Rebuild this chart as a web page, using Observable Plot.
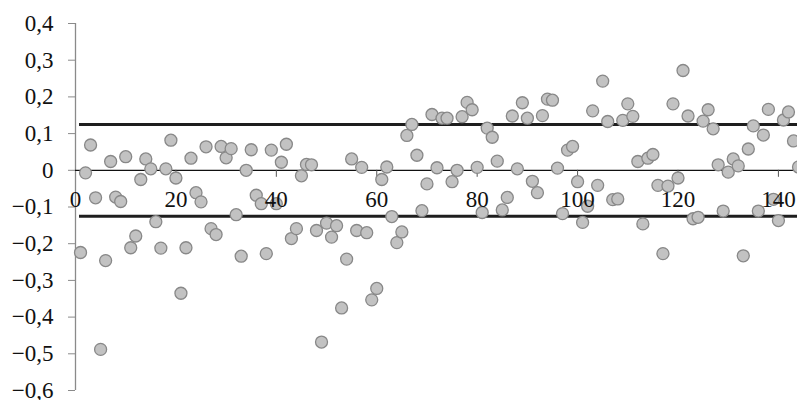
<!DOCTYPE html>
<html>
<head>
<meta charset="utf-8">
<script src="https://cdn.jsdelivr.net/npm/d3@7"></script>
<script src="https://cdn.jsdelivr.net/npm/@observablehq/plot@0.6"></script>
<style>
  html, body { margin: 0; padding: 0; background: #fff; }
  svg text { font-family: "Liberation Serif", "Times New Roman", serif; }
</style>
</head>
<body>
<div id="chart"></div>
<script>
const index = d3.range(1, 145);
const values = [
  -0.224, -0.007, 0.069, -0.075, -0.488, -0.246, 0.024, -0.073, -0.085, 0.037,
  -0.211, -0.179, -0.025, 0.031, 0.004, -0.140, -0.212, 0.004, 0.082, -0.021,
  -0.335, -0.211, 0.033, -0.061, -0.086, 0.064, -0.159, -0.175, 0.065, 0.034,
  0.059, -0.121, -0.234, 0.000, 0.056, -0.068, -0.091, -0.227, 0.055, -0.091,
  0.022, 0.071, -0.186, -0.159, -0.015, 0.016, 0.015, -0.164, -0.468, -0.144,
  -0.182, -0.151, -0.375, -0.242, 0.031, -0.164, 0.008, -0.170, -0.353, -0.322,
  -0.025, 0.009, -0.126, -0.197, -0.168, 0.095, 0.125, 0.041, -0.110, -0.037,
  0.152, 0.007, 0.142, 0.142, -0.031, 0.000, 0.146, 0.185, 0.165, 0.008,
  -0.115, 0.115, 0.090, 0.025, -0.108, -0.074, 0.148, 0.004, 0.184, 0.142,
  -0.030, -0.061, 0.149, 0.194, 0.191, 0.006, -0.118, 0.055, 0.065, -0.031,
  -0.142, -0.098, 0.162, -0.041, 0.243, 0.133, -0.080, -0.078, 0.136, 0.181,
  0.147, 0.024, -0.146, 0.033, 0.043, -0.041, -0.227, -0.043, 0.181, -0.021,
  0.272, 0.148, -0.132, -0.128, 0.134, 0.165, 0.113, 0.015, -0.111, -0.005,
  0.031, 0.012, -0.233, 0.058, 0.121, -0.111, 0.096, 0.166, -0.079, -0.137,
  0.137, 0.159, 0.080, 0.009
];
const thresholds = [0.125, -0.125];
const xTicks = [0, 20, 40, 60, 80, 100, 120, 140];
const yTicks = [-0.6, -0.5, -0.4, -0.3, -0.2, -0.1, 0, 0.1, 0.2, 0.3, 0.4];

const data = index.map((i, k) => ({i, v: values[k]}));

const W = 797, H = 400;
const mT = 23, mB = 10, mL = 75, mR = 0;
const yDomain = [-0.6, 0.4];
const xDomain = [0, 143.8];
const tickLen = 7 * (yDomain[1] - yDomain[0]) / (H - mT - mB);
const FONT = "Liberation Serif";
const FS = 23;

const fmt = d => d === 0 ? "0" : d.toFixed(1).replace(".", ",").replace("-", "\u2212");

const chart = Plot.plot({
  width: W,
  height: H,
  marginTop: mT,
  marginBottom: mB,
  marginLeft: mL,
  marginRight: mR,
  style: {fontFamily: FONT, fontSize: FS + "px", color: "#111", background: "#fff"},
  x: {domain: xDomain, axis: null},
  y: {domain: yDomain, axis: null},
  marks: [
    // y axis line
    Plot.ruleX([0], {y1: yDomain[0], y2: yDomain[1], stroke: "#8a8a8a", strokeWidth: 1.3}),
    Plot.axisY(yTicks, {anchor: "left", label: null, tickSize: 7, tickPadding: 15, tickFormat: fmt,
      stroke: "#8a8a8a", fill: "#111", fontSize: FS, fontFamily: FONT}),
    // zero line
    Plot.ruleY([0], {x1: 0, x2: 145, stroke: "#111", strokeWidth: 1.3}),
    // x ticks along zero line
    Plot.ruleX(xTicks.filter(d => d > 0), {x: d => d, y1: 0, y2: -tickLen, stroke: "#555", strokeWidth: 1}),
    // threshold lines
    Plot.ruleY(thresholds, {x1: 0.8, x2: 145, stroke: "#1e1e1e", strokeWidth: 3}),
    // points
    Plot.dot(data, {x: "i", y: "v", r: 6, fill: "#c2c2c2", stroke: "#888", strokeWidth: 1.3}),
    // x tick labels at zero line
    Plot.text(xTicks, {x: d => d, y: 0, dy: 29, text: d => String(d), fill: "#111", fontSize: FS, fontFamily: FONT})
  ]
});
document.getElementById("chart").appendChild(chart);
</script>
</body>
</html>
